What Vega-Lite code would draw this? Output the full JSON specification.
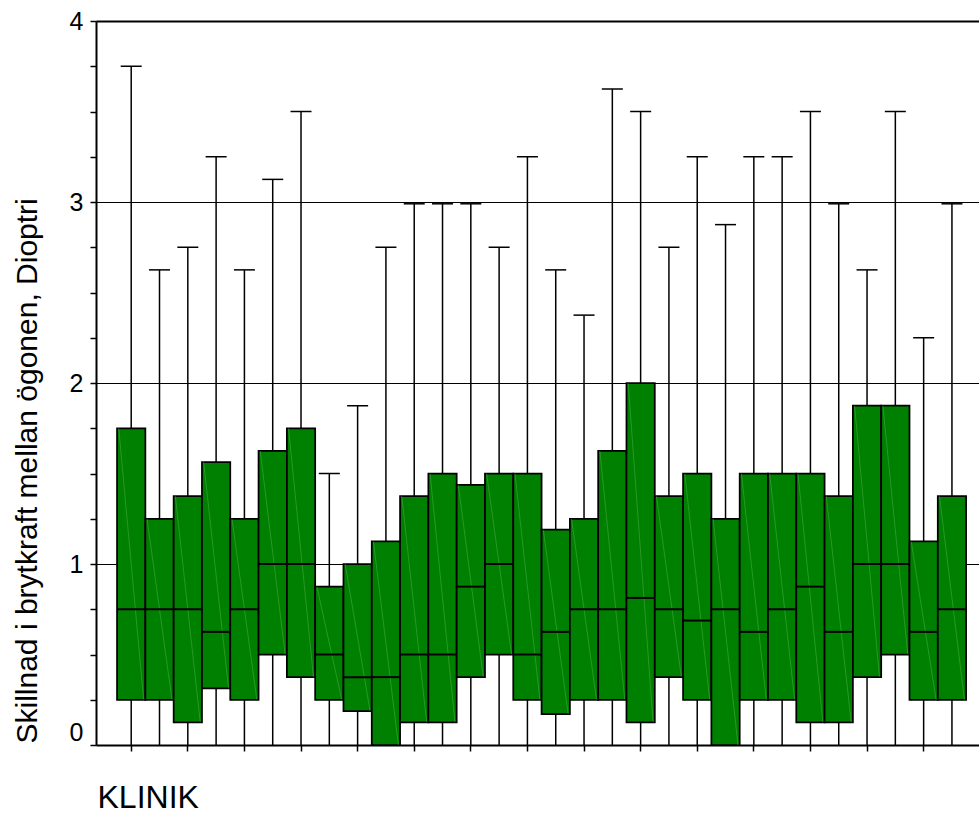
{
  "$schema": "https://vega.github.io/schema/vega-lite/v6.json",
  "width": 883,
  "height": 724,
  "autosize": {"type": "none"},
  "padding": {"left": 96, "top": 21, "right": 0, "bottom": 69},
  "background": "white",
  "config": {
    "view": {"stroke": null},
    "font": "Liberation Sans"
  },
  "data": {
    "values": [
      {"k": 1, "lo": 0, "q1": 0.25, "med": 0.75, "q3": 1.75, "hi": 3.75},
      {"k": 2, "lo": 0, "q1": 0.25, "med": 0.75, "q3": 1.25, "hi": 2.625},
      {"k": 3, "lo": 0, "q1": 0.125, "med": 0.75, "q3": 1.375, "hi": 2.75},
      {"k": 4, "lo": 0, "q1": 0.3125, "med": 0.625, "q3": 1.5625, "hi": 3.25},
      {"k": 5, "lo": 0, "q1": 0.25, "med": 0.75, "q3": 1.25, "hi": 2.625},
      {"k": 6, "lo": 0, "q1": 0.5, "med": 1.0, "q3": 1.625, "hi": 3.125},
      {"k": 7, "lo": 0, "q1": 0.375, "med": 1.0, "q3": 1.75, "hi": 3.5},
      {"k": 8, "lo": 0, "q1": 0.25, "med": 0.5, "q3": 0.875, "hi": 1.5},
      {"k": 9, "lo": 0, "q1": 0.1875, "med": 0.375, "q3": 1.0, "hi": 1.875},
      {"k": 10, "lo": 0, "q1": 0, "med": 0.375, "q3": 1.125, "hi": 2.75},
      {"k": 11, "lo": 0, "q1": 0.125, "med": 0.5, "q3": 1.375, "hi": 2.99},
      {"k": 12, "lo": 0, "q1": 0.125, "med": 0.5, "q3": 1.5, "hi": 2.99},
      {"k": 13, "lo": 0, "q1": 0.375, "med": 0.875, "q3": 1.4375, "hi": 2.99},
      {"k": 14, "lo": 0, "q1": 0.5, "med": 1.0, "q3": 1.5, "hi": 2.75},
      {"k": 15, "lo": 0, "q1": 0.25, "med": 0.5, "q3": 1.5, "hi": 3.25},
      {"k": 16, "lo": 0, "q1": 0.17, "med": 0.625, "q3": 1.19, "hi": 2.625},
      {"k": 17, "lo": 0, "q1": 0.25, "med": 0.75, "q3": 1.25, "hi": 2.375},
      {"k": 18, "lo": 0, "q1": 0.25, "med": 0.75, "q3": 1.625, "hi": 3.625},
      {"k": 19, "lo": 0, "q1": 0.125, "med": 0.8125, "q3": 2.0, "hi": 3.5},
      {"k": 20, "lo": 0, "q1": 0.375, "med": 0.75, "q3": 1.375, "hi": 2.75},
      {"k": 21, "lo": 0, "q1": 0.25, "med": 0.6875, "q3": 1.5, "hi": 3.25},
      {"k": 22, "lo": 0, "q1": 0, "med": 0.75, "q3": 1.25, "hi": 2.875},
      {"k": 23, "lo": 0, "q1": 0.25, "med": 0.625, "q3": 1.5, "hi": 3.25},
      {"k": 24, "lo": 0, "q1": 0.25, "med": 0.75, "q3": 1.5, "hi": 3.25},
      {"k": 25, "lo": 0, "q1": 0.125, "med": 0.875, "q3": 1.5, "hi": 3.5},
      {"k": 26, "lo": 0, "q1": 0.125, "med": 0.625, "q3": 1.375, "hi": 2.99},
      {"k": 27, "lo": 0, "q1": 0.375, "med": 1.0, "q3": 1.875, "hi": 2.625},
      {"k": 28, "lo": 0, "q1": 0.5, "med": 1.0, "q3": 1.875, "hi": 3.5},
      {"k": 29, "lo": 0, "q1": 0.25, "med": 0.625, "q3": 1.125, "hi": 2.25},
      {"k": 30, "lo": 0, "q1": 0.25, "med": 0.75, "q3": 1.375, "hi": 2.99}
    ]
  },
  "encoding": {
    "x": {
      "field": "k",
      "type": "ordinal",
      "sort": null,
      "title": "KLINIK",
      "scale": {"paddingInner": 0, "paddingOuter": 0.6, "align": 0.62},
      "axis": {
        "values": [1, 3, 5, 7, 9, 11, 13, 15, 17, 19, 21, 23, 25, 27, 29],
        "labels": false,
        "grid": false,
        "tickSize": 6,
        "tickColor": "black",
        "tickWidth": 1.5,
        "domainColor": "black",
        "domainWidth": 2,
        "title": "KLINIK",
        "titleFont": "Liberation Sans",
        "titleFontSize": 32,
        "titleFontWeight": "normal",
        "titleColor": "black",
        "titleAnchor": "start",
        "titleAlign": "left",
        "titleBaseline": "alphabetic",
        "titleX": 1,
        "titleY": 62
      }
    }
  },
  "layer": [
    {
      "mark": {"type": "rule", "color": "black", "strokeWidth": 1.5},
      "encoding": {
        "y": {
          "field": "lo",
          "type": "quantitative",
          "title": "Skillnad i brytkraft mellan ögonen, Dioptri",
          "scale": {"domain": [0, 4], "nice": false},
          "axis": {
            "values": [0, 0.25, 0.5, 0.75, 1, 1.25, 1.5, 1.75, 2, 2.25, 2.5, 2.75, 3, 3.25, 3.5, 3.75, 4],
            "labelExpr": "datum.value % 1 === 0 ? format(datum.value, 'd') : ''",
            "labelFont": "Liberation Sans",
            "labelFontSize": 25,
            "labelColor": "black",
            "labelPadding": 7,
            "labelOverlap": false,
            "labelBound": false,
            "labelFlush": false,
            "labelBaseline": {"condition": {"test": "datum.value === 0", "value": "bottom"}, "value": "middle"},
            "tickSize": 6,
            "tickColor": "black",
            "tickWidth": 1.5,
            "domainColor": "black",
            "domainWidth": 2,
            "grid": true,
            "gridColor": "black",
            "gridOpacity": {"condition": {"test": "datum.value % 1 === 0 && datum.value > 0", "value": 1}, "value": 0},
            "gridWidth": {"condition": {"test": "datum.value === 4", "value": 2}, "value": 1},
            "title": "Skillnad i brytkraft mellan ögonen, Dioptri",
            "titleFont": "Liberation Sans",
            "titleFontSize": 30,
            "titleFontWeight": "normal",
            "titleColor": "black",
            "titleAngle": 270,
            "titleAlign": "left",
            "titleBaseline": "alphabetic",
            "titleX": -60,
            "titleY": 722
          }
        },
        "y2": {"field": "q1"}
      }
    },
    {
      "mark": {"type": "rule", "color": "black", "strokeWidth": 1.5},
      "encoding": {
        "y": {"field": "q3", "type": "quantitative", "title": "Skillnad i brytkraft mellan ögonen, Dioptri"},
        "y2": {"field": "hi"}
      }
    },
    {
      "mark": {"type": "tick", "color": "black", "size": 21, "thickness": 1.5, "opacity": 1},
      "encoding": {
        "y": {"field": "hi", "type": "quantitative", "title": "Skillnad i brytkraft mellan ögonen, Dioptri"}
      }
    },
    {
      "mark": {"type": "bar", "color": "#008000", "stroke": "black", "strokeWidth": 1.75, "width": {"band": 1}, "opacity": 1},
      "encoding": {
        "y": {"field": "q1", "type": "quantitative", "title": "Skillnad i brytkraft mellan ögonen, Dioptri"},
        "y2": {"field": "q3"}
      }
    },
    {
      "mark": {"type": "rule", "color": "#6cc36c", "strokeWidth": 0.8, "opacity": 0.45},
      "encoding": {
        "x": {"field": "k", "type": "ordinal", "sort": null, "title": "KLINIK", "bandPosition": 0.06},
        "x2": {"field": "k", "bandPosition": 0.94},
        "y": {"field": "q3", "type": "quantitative", "title": "Skillnad i brytkraft mellan ögonen, Dioptri"},
        "y2": {"field": "q1"}
      }
    },
    {
      "mark": {"type": "tick", "color": "black", "size": 28, "thickness": 2, "opacity": 1},
      "encoding": {
        "y": {"field": "med", "type": "quantitative", "title": "Skillnad i brytkraft mellan ögonen, Dioptri"}
      }
    }
  ]
}
